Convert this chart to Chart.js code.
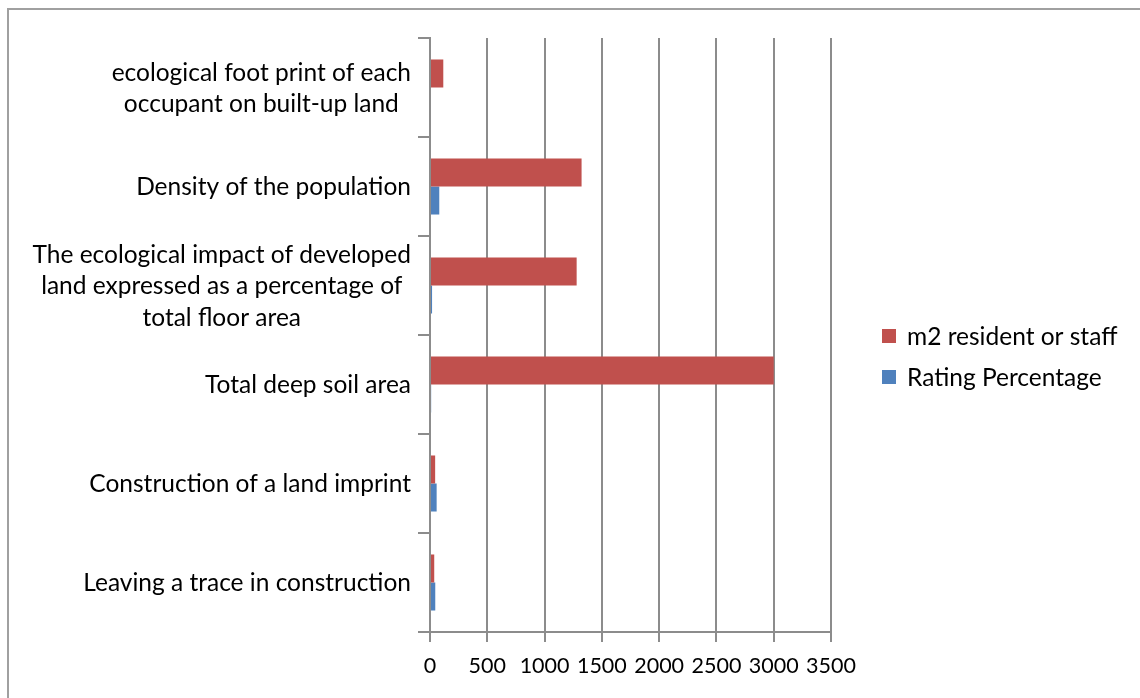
<!DOCTYPE html>
<html>
<head>
<meta charset="utf-8">
<script src="https://cdn.jsdelivr.net/npm/chart.js@4.4.1/dist/chart.umd.min.js"></script>
<style>
  html, body { margin: 0; padding: 0; background: #fff; overflow: hidden; }
  #wrap { position: relative; width: 1140px; height: 698px; }
  #frame { position: absolute; left: 7px; top: 8px; width: 1200px; height: 800px;
           border-left: 2px solid #a0a0a0; border-top: 2px solid #a0a0a0; pointer-events: none; }
</style>
</head>
<body>
<div id="wrap">
  <canvas id="c" width="1140" height="698"></canvas>
  <div id="frame"></div>
</div>
<script>
const categories = [
  ["ecological foot print of each", "occupant on built-up land"],
  ["Density of the population"],
  ["The ecological impact of developed", "land expressed as a percentage of", "total floor area"],
  ["Total deep soil area"],
  ["Construction of a land imprint"],
  ["Leaving a trace in construction"]
];
const seriesNames = ["m2 resident or staff", "Rating Percentage"];
const m2Values = [116, 1323, 1280, 3000, 45, 37];
const ratingValues = [0, 81, 18, 10, 58, 46];
const xTicks = [0, 500, 1000, 1500, 2000, 2500, 3000, 3500];
const colors = ["#C0504D", "#4F81BD"];

const FONT = "Lato";
const FSIZE = 24.5;
const XSIZE = 21.5;
const gridColor = "#8c8c8c";

const labelPlugin = {
  id: 'customLabels',
  afterDraw(chart) {
    const ctx = chart.ctx;
    const y = chart.scales.y;
    ctx.save();
    ctx.font = FSIZE + "px " + FONT;
    ctx.fillStyle = "#000";
    ctx.textAlign = "center";
    ctx.textBaseline = "middle";
    const rightEdge = chart.chartArea.left - 19;
    const lh = 31.5;
    categories.forEach((lines, i) => {
      const cy = y.getPixelForValue(i) + 1;
      let maxW = 0;
      lines.forEach(l => { maxW = Math.max(maxW, ctx.measureText(l).width); });
      const cx = rightEdge - maxW / 2;
      const start = cy - (lines.length - 1) * lh / 2;
      lines.forEach((l, k) => ctx.fillText(l, cx, start + k * lh));
    });
    // legend
    const lx = 882, ly = [336, 377];
    chart.data.datasets.forEach((ds, i) => {
      ctx.fillStyle = ds.backgroundColor;
      ctx.fillRect(lx, ly[i] - 7, 14, 14);
      ctx.fillStyle = "#000";
      ctx.textAlign = "left";
      ctx.fillText(ds.label, lx + 25, ly[i] + 1);
    });
    ctx.restore();
  }
};

new Chart(document.getElementById('c'), {
  type: 'bar',
  data: {
    labels: categories.map(c => c.join(" ")),
    datasets: [
      { label: seriesNames[0], data: m2Values, backgroundColor: colors[0] },
      { label: seriesNames[1], data: ratingValues, backgroundColor: colors[1] }
    ]
  },
  options: {
    indexAxis: 'y',
    responsive: false,
    animation: false,
    devicePixelRatio: 1,
    layout: { padding: { left: 0, top: 38, right: 309, bottom: 0 } },
    datasets: { bar: { categoryPercentage: 0.566, barPercentage: 1.0 } },
    plugins: { legend: { display: false }, tooltip: { enabled: false } },
    scales: {
      x: {
        min: 0, max: 3500,
        afterBuildTicks(scale) { scale.ticks = xTicks.map(v => ({ value: v })); },
        grid: { color: gridColor, lineWidth: 2, tickLength: 10, drawTicks: true },
        border: { color: gridColor, width: 2 },
        ticks: { color: "#000", font: { family: FONT, size: XSIZE }, padding: 11, maxRotation: 0, autoSkip: false,
                 callback: (v) => String(v) },
        afterFit(scale) { scale.height = 66; }
      },
      y: {
        grid: { offset: true, drawOnChartArea: false, color: gridColor, lineWidth: 2, tickLength: 12 },
        border: { color: gridColor, width: 2 },
        ticks: { color: "rgba(0,0,0,0)", font: { family: FONT, size: FSIZE } },
        afterFit(scale) { scale.width = 430; }
      }
    }
  },
  plugins: [labelPlugin]
});
</script>
</body>
</html>
